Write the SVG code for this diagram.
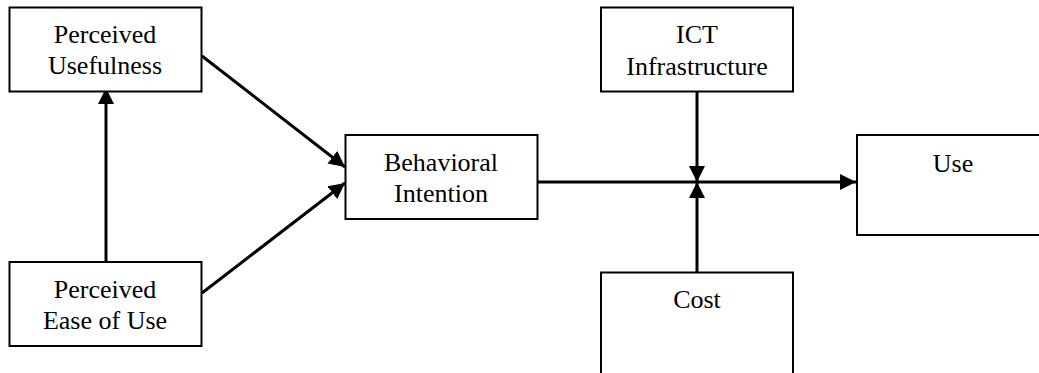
<svg xmlns="http://www.w3.org/2000/svg" width="1039" height="373" viewBox="0 0 1039 373">
  <style>
    .box { fill: #ffffff; stroke: #000000; stroke-width: 2; }
    .lbl { font-family: "Liberation Serif", "Times New Roman", serif; font-size: 26px; fill: #000000; text-anchor: middle; }
    .conn { stroke: #000000; stroke-width: 3; fill: none; marker-end: url(#arrow); }
  </style>
  <defs>
    <marker id="arrow" markerWidth="16" markerHeight="16" refX="16" refY="8" orient="auto" markerUnits="userSpaceOnUse">
      <path d="M0,0 L16,8 L0,16 z" fill="#000000"/>
    </marker>
  </defs>
  <rect width="1039" height="373" fill="#ffffff"/>
  <g id="connectors">
    <line class="conn" x1="106" y1="262" x2="106" y2="88"/>
    <line class="conn" x1="202" y1="56" x2="345" y2="167"/>
    <line class="conn" x1="202" y1="293" x2="345" y2="183"/>
    <line class="conn" x1="538" y1="182" x2="856" y2="182"/>
    <line class="conn" x1="697" y1="86" x2="697" y2="182"/>
    <line class="conn" x1="697" y1="278" x2="697" y2="182"/>
  </g>
  <g id="node-pu">
    <rect class="box" x="9.5" y="7.5" width="192" height="84"/>
    <text class="lbl" x="105" y="43">Perceived</text>
    <text class="lbl" x="105" y="74">Usefulness</text>
  </g>
  <g id="node-peu">
    <rect class="box" x="9.5" y="262" width="192" height="84"/>
    <text class="lbl" x="105" y="298">Perceived</text>
    <text class="lbl" x="105" y="329">Ease of Use</text>
  </g>
  <g id="node-bi">
    <rect class="box" x="345.5" y="135" width="192" height="84"/>
    <text class="lbl" x="441" y="171">Behavioral</text>
    <text class="lbl" x="441" y="202">Intention</text>
  </g>
  <g id="node-ict">
    <rect class="box" x="601" y="7.5" width="192" height="84"/>
    <text class="lbl" x="697" y="43">ICT</text>
    <text class="lbl" x="697" y="75">Infrastructure</text>
  </g>
  <g id="node-cost">
    <rect class="box" x="601" y="272.5" width="192" height="110"/>
    <text class="lbl" x="697" y="308">Cost</text>
  </g>
  <g id="node-use">
    <rect class="box" x="857" y="135" width="192" height="100"/>
    <text class="lbl" x="953" y="172">Use</text>
  </g>
</svg>
